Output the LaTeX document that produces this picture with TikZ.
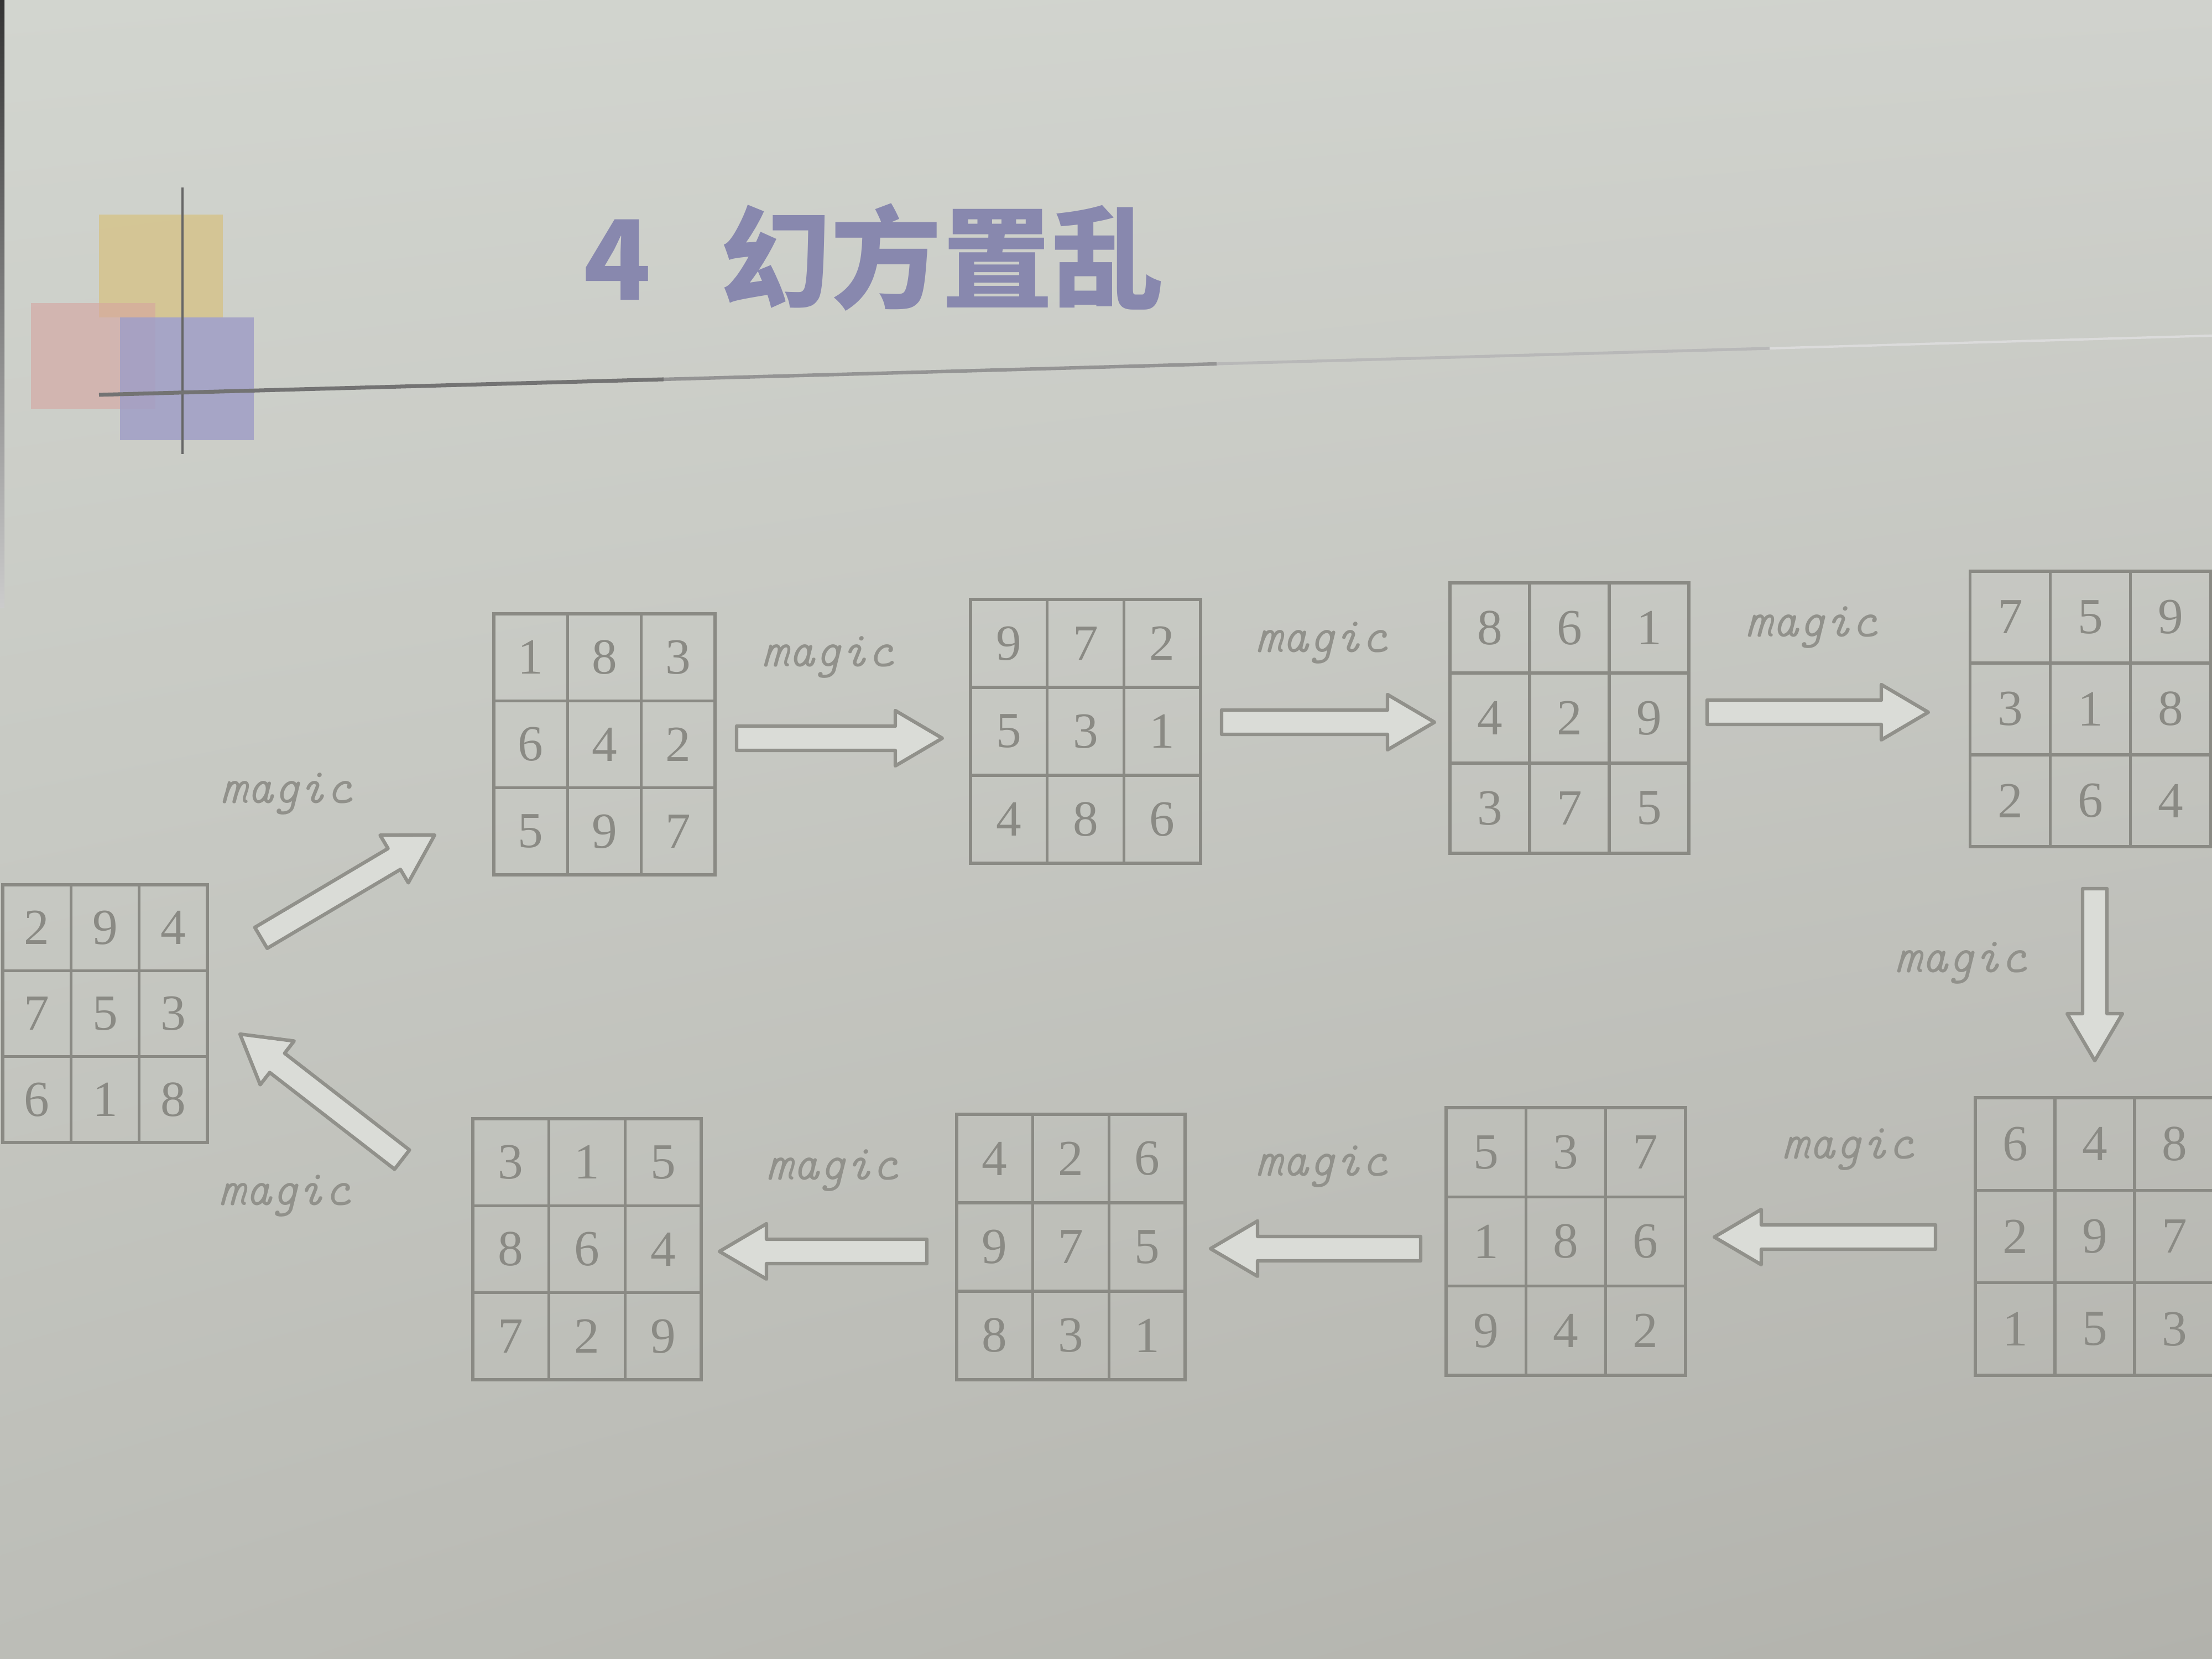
\documentclass[tikz,border=0pt]{standalone}
\usepackage{fontspec}
\setmainfont{Liberation Serif}
\newfontfamily\cjk{Noto Sans CJK SC}
\usetikzlibrary{calc,shadings}
\definecolor{bgUL}{RGB}{210,213,207}
\definecolor{bgUR}{RGB}{208,210,205}
\definecolor{bgLL}{RGB}{188,189,183}
\definecolor{bgLR}{RGB}{178,178,172}
\definecolor{linec}{RGB}{138,138,132}
\definecolor{numc}{RGB}{138,138,132}
\definecolor{magc}{RGB}{145,145,139}
\definecolor{titlec}{RGB}{136,136,174}
\definecolor{arrfill}{RGB}{218,220,215}
\definecolor{arredge}{RGB}{145,145,139}
\definecolor{decoY}{RGB}{214,196,140}
\definecolor{decoP}{RGB}{214,164,160}
\definecolor{decoV}{RGB}{160,158,198}
\tikzset{
  gridbox/.style={draw=linec, line width=1.5pt, rectangle, inner sep=0pt, outer sep=0pt},
  gridline/.style={draw=linec, line width=1.5pt},
  numsty/.style={text=numc, font=\fontsize{26}{30}\selectfont, inner sep=0pt},
  magsty/.style={text=magc, font=\fontsize{26}{30}\selectfont\ttfamily\itshape, inner sep=0pt},
  arrowsty/.style={draw=arredge, fill=arrfill, line width=1.8pt, line join=round},
  titlesty/.style={text=titlec, font=\fontsize{57}{62}\selectfont\cjk\bfseries, inner sep=0pt, anchor=west}
}
\newcommand{\msq}[5]{%
  \node[gridbox, minimum width={3*#3cm}, minimum height={3*#4cm}] (#1) at (#2) {};
  \foreach \k in {1,2}{
    \draw[gridline] ($(#1.north west)!\k/3!(#1.north east)$) -- ($(#1.south west)!\k/3!(#1.south east)$);
    \draw[gridline] ($(#1.north west)!\k/3!(#1.south west)$) -- ($(#1.north east)!\k/3!(#1.south east)$);
  }
  \foreach \v [count=\i from 0] in {#5}{
    \pgfmathtruncatemacro\rr{\i/3}
    \pgfmathtruncatemacro\cc{mod(\i,3)}
    \node[numsty] (#1n\i) at ($(#1.north west)+({(\cc+0.5)*#3},{-(\rr+0.5)*#4})$) {\v};
  }
}
\newcommand{\barrow}[2]{%
  \coordinate (hb) at ($(#2)!0.85cm!(#1)$);
  \draw[arrowsty] ($(#1)!0.22cm!90:(#2)$) -- ($(hb)!0.22cm!-90:(#1)$) -- ($(hb)!0.5cm!-90:(#1)$) -- (#2) -- ($(hb)!0.5cm!90:(#1)$) -- ($(hb)!0.22cm!90:(#1)$) -- ($(#1)!0.22cm!-90:(#2)$) -- cycle;
}
\begin{document}
\begin{tikzpicture}
\useasboundingbox (0,0) rectangle (40,30);
\shade[upper left=bgUL, upper right=bgUR, lower left=bgLL, lower right=bgLR] (0,0) rectangle (40,30);
\shade[top color=black!80, bottom color=black!20] (0,19) rectangle (0.08,30);

% title decoration
\fill[decoY, opacity=0.85] (1.79,24.26) rectangle (4.03,26.12);
\fill[decoP, opacity=0.6] (0.56,22.60) rectangle (2.81,24.52);
\fill[decoV, opacity=0.85] (2.17,22.04) rectangle (4.59,24.26);
\draw[black!60, line width=1.2pt] (3.30,26.61) -- (3.30,21.79);
\draw[black!55, line width=2pt] (1.79,22.86) -- (12,23.14);
\draw[black!42, line width=1.8pt] (12,23.14) -- (22,23.42);
\draw[black!28, line width=1.5pt] (22,23.42) -- (32,23.70);
\draw[black!14, line width=1.2pt] (32,23.70) -- (40,23.93);

\node[titlesty] (title) at (10.55,25.35) {4\hspace{1.25cm}幻方置乱};

% grids
\msq{g0}{1.90,11.67}{1.233}{1.553}{2,9,4,7,5,3,6,1,8}
\msq{g1}{10.93,16.54}{1.333}{1.573}{1,8,3,6,4,2,5,9,7}
\msq{g2}{19.63,16.775}{1.387}{1.59}{9,7,2,5,3,1,4,8,6}
\msq{g3}{28.38,17.015}{1.44}{1.63}{8,6,1,4,2,9,3,7,5}
\msq{g4}{37.80,17.18}{1.45}{1.66}{7,5,9,3,1,8,2,6,4}
\msq{g5}{37.88,7.64}{1.44}{1.673}{6,4,8,2,9,7,1,5,3}
\msq{g6}{28.315,7.55}{1.443}{1.613}{5,3,7,1,8,6,9,4,2}
\msq{g7}{19.365,7.45}{1.377}{1.60}{4,2,6,9,7,5,8,3,1}
\msq{g8}{10.615,7.41}{1.377}{1.573}{3,1,5,8,6,4,7,2,9}

% arrow end points
\coordinate (a1s) at (4.72,13.04);  \coordinate (a1e) at (7.86,14.90);
\coordinate (a2s) at (13.32,16.65); \coordinate (a2e) at (17.04,16.65);
\coordinate (a3s) at (22.09,16.94); \coordinate (a3e) at (25.94,16.94);
\coordinate (a4s) at (30.87,17.12); \coordinate (a4e) at (34.87,17.12);
\coordinate (a5s) at (37.88,13.93); \coordinate (a5e) at (37.88,10.82);
\coordinate (a6s) at (35.00,7.63);  \coordinate (a6e) at (31.00,7.63);
\coordinate (a7s) at (25.69,7.42);  \coordinate (a7e) at (21.89,7.42);
\coordinate (a8s) at (16.76,7.37);  \coordinate (a8e) at (13.01,7.37);
\coordinate (a9s) at (7.27,9.03);   \coordinate (a9e) at (4.34,11.30);
\barrow{a1s}{a1e}
\barrow{a2s}{a2e}
\barrow{a3s}{a3e}
\barrow{a4s}{a4e}
\barrow{a5s}{a5e}
\barrow{a6s}{a6e}
\barrow{a7s}{a7e}
\barrow{a8s}{a8e}
\barrow{a9s}{a9e}

% labels
\node[magsty] (l1) at (5.18,15.64) {magic};
\node[magsty] (l2) at (14.97,18.11) {magic};
\node[magsty] (l3) at (23.90,18.37) {magic};
\node[magsty] (l4) at (32.76,18.65) {magic};
\node[magsty] (l5) at (35.46,12.58) {magic};
\node[magsty] (l6) at (33.42,9.21) {magic};
\node[magsty] (l7) at (23.90,8.90) {magic};
\node[magsty] (l8) at (15.05,8.83) {magic};
\node[magsty] (l9) at (5.15,8.37) {magic};
\end{tikzpicture}
\end{document}
